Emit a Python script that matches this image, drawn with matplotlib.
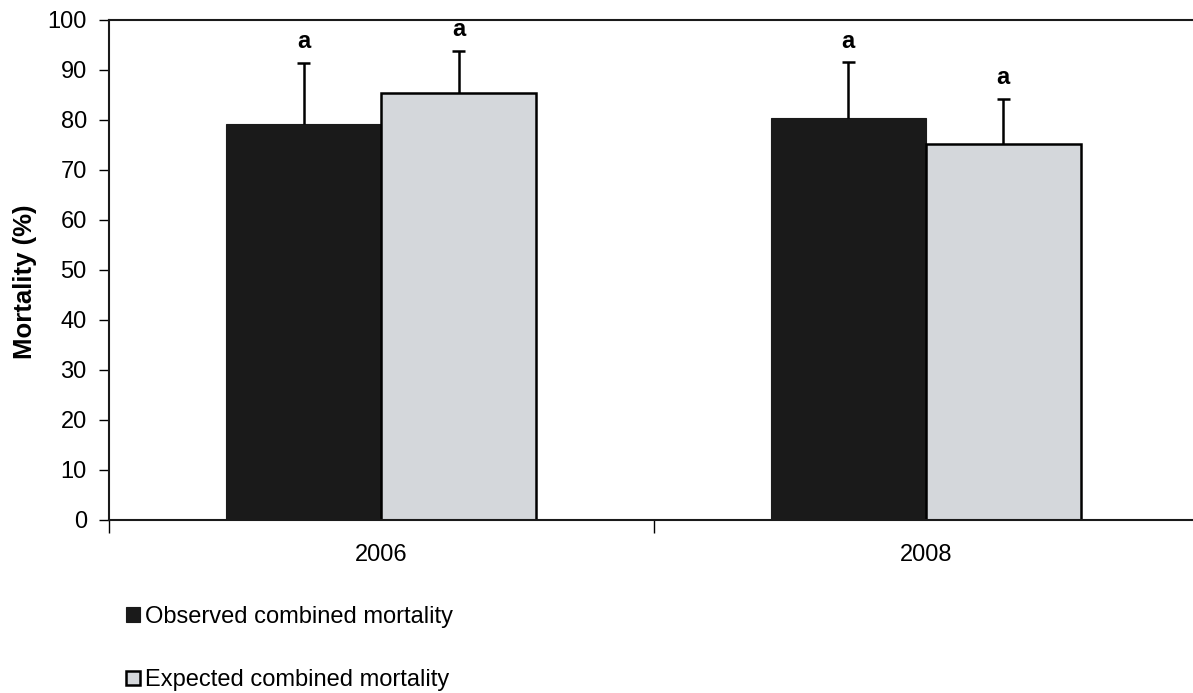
import matplotlib
matplotlib.use("Agg")
import matplotlib.pyplot as plt
import numpy as np

years = ["2006", "2008"]
observed = [79.2, 80.4]
observed_err = [12.3, 11.2]
expected = [85.5, 75.2]
expected_err = [8.4, 9.1]
letters_obs = ["a", "a"]
letters_exp = ["a", "a"]
y_ticks = [0, 10, 20, 30, 40, 50, 60, 70, 80, 90, 100]

plt.rcParams['font.family'] = ['Liberation Sans', 'DejaVu Sans']

W, H = 1193, 693
fig = plt.figure(figsize=(W / 100, H / 100), dpi=100)
left, right, top, bottom = 109, 1198, 20, 520
ax = fig.add_axes([left / W, 1 - bottom / H, (right - left) / W, (bottom - top) / H])

x = np.arange(len(years))
bw = 0.285
obs_color = "#1a1a1a"
exp_color = "#d4d7db"

ax.bar(x - bw / 2, observed, bw, color=obs_color, edgecolor=obs_color, linewidth=0.8,
       label="Observed combined mortality", zorder=2)
ax.bar(x + bw / 2, expected, bw, color=exp_color, edgecolor="black", linewidth=1.8,
       label="Expected combined mortality", zorder=2)

cap = 0.012
for xs, vals, errs in [(x - bw / 2, observed, observed_err), (x + bw / 2, expected, expected_err)]:
    tops = np.array(vals) + np.array(errs)
    ax.vlines(xs, vals, tops, colors="black", linewidth=1.8, zorder=3)
    ax.hlines(tops, xs - cap, xs + cap, colors="black", linewidth=1.8, zorder=3)

for i in range(len(years)):
    ax.text(x[i] - bw / 2, observed[i] + observed_err[i] + 2.8, letters_obs[i],
            ha="center", va="baseline", fontsize=17, fontweight="bold")
    ax.text(x[i] + bw / 2, expected[i] + expected_err[i] + 2.8, letters_exp[i],
            ha="center", va="baseline", fontsize=17, fontweight="bold")

ax.set_xlim(-0.5, 1.5)
ax.set_ylim(0, 100)
ax.set_yticks(y_ticks)
ax.set_yticklabels([str(v) for v in y_ticks], fontsize=17)
ax.set_xticks([-0.5, 0.5, 1.5])
ax.set_xticklabels([])
ax.tick_params(axis="x", length=9, width=1, direction="out")
ax.tick_params(axis="y", length=7, width=1, direction="out", pad=9)
for i, lab in enumerate(years):
    ax.text(x[i], -4.8, lab, ha="center", va="top", fontsize=17)

ax.spines["right"].set_visible(False)
for s in ["left", "bottom", "top"]:
    ax.spines[s].set_linewidth(1.5)
    ax.spines[s].set_color("#1a1a1a")

ax.set_ylabel("Mortality (%)", fontsize=18.5, fontweight="bold")
ax.yaxis.set_label_coords(-0.066, 0.476)

handles, labels = ax.get_legend_handles_labels()
leg = fig.legend(handles, labels, loc="upper left", bbox_to_anchor=(126 / W, 1 - 606 / H),
                 frameon=False, fontsize=17, handlelength=0.6, handleheight=0.6,
                 handletextpad=0.2, labelspacing=1.75, borderaxespad=0, borderpad=0)

fig.savefig("out.png", dpi=100)
